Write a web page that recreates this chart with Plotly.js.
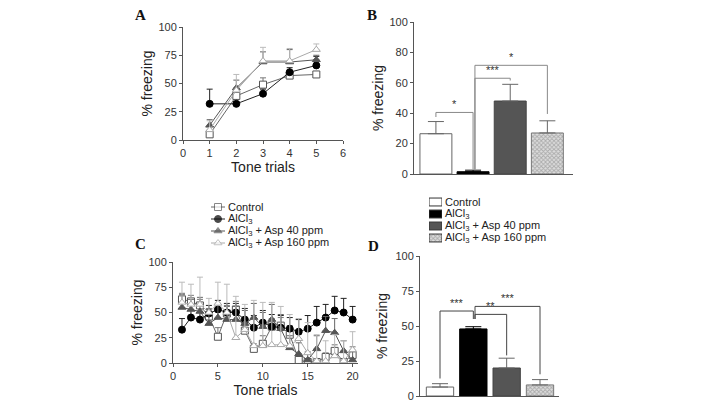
<!DOCTYPE html>
<html>
<head>
<meta charset="utf-8">
<script src="https://cdn.plot.ly/plotly-3.0.1.min.js"></script>
<style>html,body{margin:0;padding:0;background:#fff}#chart{width:708px;height:404px}</style>
</head>
<body>
<div id="chart"></div>
<script>
// ---------- DATA ----------
const groups = ['Control', 'AlCl<sub>3</sub>', 'AlCl<sub>3</sub> + Asp 40 ppm', 'AlCl<sub>3</sub> + Asp 160 ppm'];

// Panel A: 5 tone trials
const trialsA = [1, 2, 3, 4, 5];
const A_control = [5, 39, 49, 57, 58];
const A_control_err = [2, 3, 6, 2, 2];
const A_alcl3 = [32, 32, 41, 60, 66];
const A_alcl3_err = [13, 2, 4, 4, 8];
const A_asp40 = [13, 46, 69, 69, 71];
const A_asp40_err = [5, 7, 9, 11, 4];
const A_asp160 = [9, 44, 70, 70, 80];
const A_asp160_err = [8, 14, 12, 11, 5];

// Panel B: mean freezing
const B_mean = [26.5, 1.5, 48, 27];
const B_err = [8, 1, 11, 8];

// Panel C: 20 tone trials
const trialsC = [1,2,3,4,5,6,7,8,9,10,11,12,13,14,15,16,17,18,19,20];
const C_control = [63, 61, 57, 46, 26, 49, 53, 32, 14, 19, 36, 37, 28, 3, 1, 1, 6, 12, 1, 8];
const C_control_err = [6, 6, 6, 8, 9, 8, 8, 8, 5, 8, 8, 8, 9, 4, 2, 2, 4, 6, 2, 8];
const C_alcl3 = [33, 45, 43, 49, 53, 50, 50, 43, 35, 40, 36, 35, 34, 31, 34, 40, 45, 52, 50, 43];
const C_alcl3_err = [11, 8, 7, 8, 9, 9, 9, 11, 12, 12, 12, 12, 11, 12, 13, 16, 13, 14, 14, 13];
const C_asp40 = [55, 53, 51, 39, 45, 43, 43, 39, 45, 36, 43, 34, 15, 9, 3, 14, 32, 30, 12, 3];
const C_asp40_err = [13, 10, 14, 14, 14, 13, 13, 13, 14, 14, 15, 14, 12, 11, 8, 13, 14, 14, 10, 8];
const C_asp160 = [60, 58, 58, 50, 59, 50, 25, 33, 17, 17, 18, 18, 17, 24, 10, 2, 2, 7, 2, 13];
const C_asp160_err = [20, 20, 27, 14, 21, 28, 41, 25, 45, 43, 42, 38, 31, 20, 30, 26, 20, 21, 20, 18];

// Panel D: mean freezing
const D_mean = [6.4, 47.9, 20, 7.9];
const D_err = [2.4, 1.6, 7, 3.8];

// ---------- STYLE ----------
const FONT = 'Liberation Sans, Arial, sans-serif';
const AX = '#555';
const lineStyles = [
  {sym: 'square', fill: '#fff', mcol: '#555', lcol: '#666', ecol: '#777'},
  {sym: 'circle', fill: '#000', mcol: '#000', lcol: '#222', ecol: '#222'},
  {sym: 'triangle-up', fill: '#555', mcol: '#555', lcol: '#555', ecol: '#666'},
  {sym: 'triangle-up', fill: '#fff', mcol: '#aaa', lcol: '#aaa', ecol: '#bbb'}
];
const barStyles = [
  {color: '#ffffff', line: '#666', pattern: null},
  {color: '#000000', line: '#000', pattern: null},
  {color: '#555555', line: '#444', pattern: null},
  {color: '#ffffff', line: '#777', pattern: {shape: 'x', fgcolor: '#777', bgcolor: '#ddd', size: 3, solidity: 0.5, fillmode: 'overlay'}}
];

function lineTrace(i, x, y, err, xa, ya) {
  const s = lineStyles[i];
  return {
    type: 'scatter', mode: 'lines+markers', x: x, y: y, xaxis: xa, yaxis: ya,
    name: groups[i], showlegend: false,
    line: {color: s.lcol, width: 1},
    marker: {symbol: s.sym, size: 7, color: s.fill, line: {color: s.mcol, width: 1}},
    error_y: {type: 'data', symmetric: false, array: err, arrayminus: err.map(() => 0),
              color: s.ecol, thickness: 1, width: 3}
  };
}
function barTrace(i, mean, err, xa, ya, w) {
  const s = barStyles[i];
  const m = {color: s.color, line: {color: s.line, width: 1}};
  if (s.pattern) m.pattern = s.pattern;
  return {
    type: 'bar', x: [i], y: [mean[i]], xaxis: xa, yaxis: ya, width: w,
    name: groups[i], showlegend: false, marker: m,
    error_y: {type: 'data', symmetric: false, array: [err[i]], arrayminus: [0],
              color: i === 1 ? '#000' : '#666', thickness: 1, width: 8}
  };
}

const seriesA = [[A_control, A_control_err], [A_alcl3, A_alcl3_err], [A_asp40, A_asp40_err], [A_asp160, A_asp160_err]];
const seriesC = [[C_control, C_control_err], [C_alcl3, C_alcl3_err], [C_asp40, C_asp40_err], [C_asp160, C_asp160_err]];
const traces = [];
seriesA.forEach((s, i) => traces.push(lineTrace(i, trialsA, s[0], s[1], 'x', 'y')));
[0,1,2,3].forEach(i => traces.push(barTrace(i, B_mean, B_err, 'x2', 'y2', 0.86)));
seriesC.forEach((s, i) => traces.push(lineTrace(i, trialsC, s[0], s[1], 'x3', 'y3')));
[0,1,2,3].forEach(i => traces.push(barTrace(i, D_mean, D_err, 'x4', 'y4', 0.82)));

// compact legends drawn on their own hidden axes (rows 0..3)
const legendRows = [0, 1, 2, 3];
legendRows.forEach(i => {
  const s = lineStyles[i];
  traces.push({type: 'scatter', mode: 'lines+markers', x: [0, 0.5, 1], y: [i, i, i], xaxis: 'x5', yaxis: 'y5',
    showlegend: false, hoverinfo: 'skip', line: {color: s.lcol, width: 1},
    marker: {symbol: s.sym, size: [0, 7, 0], color: s.fill, line: {color: s.mcol, width: [0, 1, 0]}}});
  const b = barStyles[i];
  const m = {color: b.color, line: {color: '#333', width: 1}};
  if (b.pattern) m.pattern = b.pattern;
  traces.push({type: 'bar', orientation: 'h', x: [1], y: [i], base: 0, width: 0.66, xaxis: 'x6', yaxis: 'y6',
    showlegend: false, hoverinfo: 'skip', marker: m});
});

// significance brackets: [xLeft, xRight, yTop, yLeftEnd, yRightEnd, label]
const bracketsB = [[0, 1, 40.5, 37.5, 3, '*'], [1.05, 2, 63, 3, 61.5, '***'], [1.05, 3, 71.5, 3, 39.5, '*']];
const bracketsD = [[0, 1, 60.7, 12.5, 55, '***'], [1.05, 2, 58.3, 55, 29, '**'], [1.05, 3, 64, 55, 15.5, '***']];

const shapes = [], annotations = [];
function addBrackets(list, xa, ya, col) {
  list.forEach(b => {
    const common = {type: 'line', xref: xa, yref: ya, line: {color: col, width: 1}};
    shapes.push(Object.assign({x0: b[0], x1: b[1], y0: b[2], y1: b[2]}, common));
    shapes.push(Object.assign({x0: b[0], x1: b[0], y0: b[2], y1: b[3]}, common));
    shapes.push(Object.assign({x0: b[1], x1: b[1], y0: b[2], y1: b[4]}, common));
    annotations.push({xref: xa, yref: ya, x: (b[0] + b[1]) / 2, y: b[2], text: b[5], showarrow: false,
                      yanchor: 'bottom', font: {family: FONT, size: 11, color: '#333'}});
  });
}
addBrackets(bracketsB, 'x2', 'y2', '#888');
addBrackets(bracketsD, 'x4', 'y4', '#444');

// legend texts
legendRows.forEach(i => {
  annotations.push({xref: 'paper', yref: 'y5', x: 226/708, y: i, text: groups[i], showarrow: false,
                    xanchor: 'left', yanchor: 'middle', font: {family: FONT, size: 11, color: '#222'}});
  annotations.push({xref: 'paper', yref: 'y6', x: 443/708, y: i, text: groups[i], showarrow: false,
                    xanchor: 'left', yanchor: 'middle', font: {family: FONT, size: 11, color: '#222'}});
});

// panel letters
[['A', 140, 15], ['B', 372, 15], ['C', 140, 244], ['D', 373, 246]].forEach(p => {
  annotations.push({xref: 'paper', yref: 'paper', x: p[1] / 708, y: 1 - p[2] / 404, text: '<b>' + p[0] + '</b>',
                    showarrow: false, xanchor: 'center', yanchor: 'middle',
                    font: {family: 'Liberation Serif, Times New Roman, serif', size: 15, color: '#111'}});
});

const tickFont = {family: FONT, size: 11, color: '#333'};
const titleFont = {family: FONT, size: 14, color: '#222'};
function yax(domain, range, dtick, standoff, anchor) {
  return {domain: domain, range: range, dtick: dtick, tick0: 0, anchor: anchor, showgrid: false, zeroline: false,
          showline: true, linecolor: AX, linewidth: 1, ticks: 'outside', ticklen: 3, tickcolor: AX,
          tickfont: tickFont, title: {text: '% freezing', font: titleFont, standoff: standoff}, fixedrange: true};
}
function xax(domain, range, dtick, anchor, titleText, showTicks) {
  const a = {domain: domain, range: range, dtick: dtick, tick0: 0, anchor: anchor, showgrid: false, zeroline: false,
          showline: true, linecolor: AX, linewidth: 1, ticks: showTicks ? 'outside' : '', ticklen: 3, tickcolor: AX,
          showticklabels: showTicks, tickfont: tickFont, fixedrange: true};
  if (titleText) a.title = {text: titleText, font: titleFont, standoff: 1};
  return a;
}
function hiddenAx(domain, range, anchor) {
  return {domain: domain, range: range, anchor: anchor, visible: false, fixedrange: true};
}

const layout = {
  width: 708, height: 404, margin: {l: 0, r: 0, t: 0, b: 0}, showlegend: false,
  paper_bgcolor: '#fff', plot_bgcolor: 'rgba(0,0,0,0)', barmode: 'overlay', font: {family: FONT},
  xaxis: xax([183/708, 343/708], [0, 6], 1, 'y', 'Tone trials', true),
  yaxis: yax([1 - 140/404, 1 - 27/404], [0, 100], 25, 2, 'x'),
  xaxis2: xax([414/708, 573/708], [-0.59, 3.69], 1, 'y2', '', false),
  yaxis2: yax([1 - 174/404, 1 - 22/404], [0, 100], 20, 2, 'x2'),
  xaxis3: xax([173/708, 358/708], [0, 20.6], 5, 'y3', 'Tone trials', true),
  yaxis3: yax([1 - 363/404, 1 - 262/404], [0, 100], 25, 2, 'x3'),
  xaxis4: xax([420/708, 559/708], [-0.6, 3.57], 1, 'y4', '', false),
  yaxis4: yax([1 - 396/404, 1 - 256/404], [0, 100], 25, 4, 'x4'),
  xaxis5: hiddenAx([211/708, 225/708], [0, 1], 'y5'),
  yaxis5: hiddenAx([1 - 249/404, 1 - 201/404], [3.5, -0.5], 'x5'),
  xaxis6: hiddenAx([429/708, 442/708], [0, 1], 'y6'),
  yaxis6: hiddenAx([1 - 244/404, 1 - 196/404], [3.5, -0.5], 'x6'),
  shapes: shapes, annotations: annotations
};

Plotly.newPlot('chart', traces, layout, {staticPlot: true, displayModeBar: false});
</script>
</body>
</html>
